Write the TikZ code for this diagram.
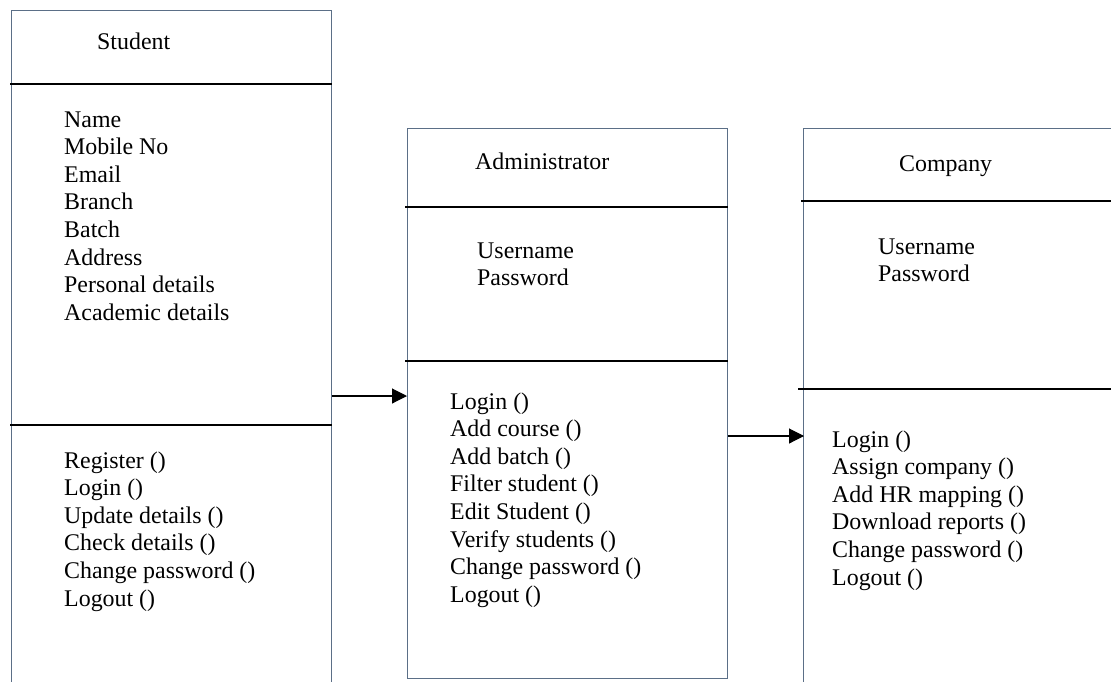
\documentclass[tikz,border=0pt]{standalone}
\usepackage{fontspec}
\setmainfont{Liberation Serif}
\usetikzlibrary{arrows.meta}
\definecolor{boxedge}{HTML}{5B6F87}
\begin{document}
\begin{tikzpicture}[x=1pt,y=-1pt,
  classbox/.style={draw=boxedge, line width=1.1pt, fill=none, rectangle, inner sep=0pt, anchor=north west},
  divider/.style={draw=black, line width=1.1pt},
  txt/.style={anchor=base west, inner sep=0pt, font=\fontsize{23.9}{27.6}\selectfont},
  conn/.style={draw=black, line width=1.1pt, -{Triangle[length=15pt,width=15pt]}}]
\useasboundingbox (0,0) rectangle (1111,681);
\clip (0,0) rectangle (1111,681);
\fill[white] (0,0) rectangle (1111,681);
\renewcommand{\arraystretch}{1}
% boxes
\node[classbox, minimum width=320pt, minimum height=720pt] (student) at (11,10) {};
\node[classbox, minimum width=320pt, minimum height=550pt] (admin) at (407,128) {};
\node[classbox, minimum width=340pt, minimum height=600pt] (company) at (803,128) {};
% dividers
\coordinate (s1) at (10,84);
\coordinate (s2) at (10,425);
\coordinate (d1) at (405,207);
\coordinate (d2) at (405,361);
\coordinate (c1) at (801,201);
\coordinate (c2) at (798,389);
\draw[divider] (s1) -- (student.east |- s1);
\draw[divider] (s2) -- (student.east |- s2);
\draw[divider] (d1) -- (admin.east |- d1);
\draw[divider] (d2) -- (admin.east |- d2);
\draw[divider] (c1) -- (company.east |- c1);
\draw[divider] (c2) -- (company.east |- c2);
% titles
\node[txt] (stitle) at (97,49) {Student};
\node[txt] (atitle) at (475,169) {Administrator};
\node[txt] (ctitle) at (899,171) {Company};
% attributes
\node[txt] (sattr) at (64,127) {\begin{tabular}[t]{@{}l@{}}Name\\Mobile No\\Email\\Branch\\Batch\\Address\\Personal details\\Academic details\end{tabular}};
\node[txt] (aattr) at (477,258) {\begin{tabular}[t]{@{}l@{}}Username\\Password\end{tabular}};
\node[txt] (cattr) at (878,254) {\begin{tabular}[t]{@{}l@{}}Username\\Password\end{tabular}};
% methods
\node[txt] (smeth) at (64,468) {\begin{tabular}[t]{@{}l@{}}Register ()\\Login ()\\Update details ()\\Check details ()\\Change password ()\\Logout ()\end{tabular}};
\node[txt] (ameth) at (450,409) {\begin{tabular}[t]{@{}l@{}}Login ()\\Add course ()\\Add batch ()\\Filter student ()\\Edit Student ()\\Verify students ()\\Change password ()\\Logout ()\end{tabular}};
\node[txt] (cmeth) at (832,447) {\begin{tabular}[t]{@{}l@{}}Login ()\\Assign company ()\\Add HR mapping ()\\Download reports ()\\Change password ()\\Logout ()\end{tabular}};
% connectors
\coordinate (a1) at (0,396);
\coordinate (a2) at (0,436);
\draw[conn] (student.east |- a1) -- (admin.west |- a1);
\draw[conn] (admin.east |- a2) -- ([xshift=1pt]company.west |- a2);
\end{tikzpicture}
\end{document}
